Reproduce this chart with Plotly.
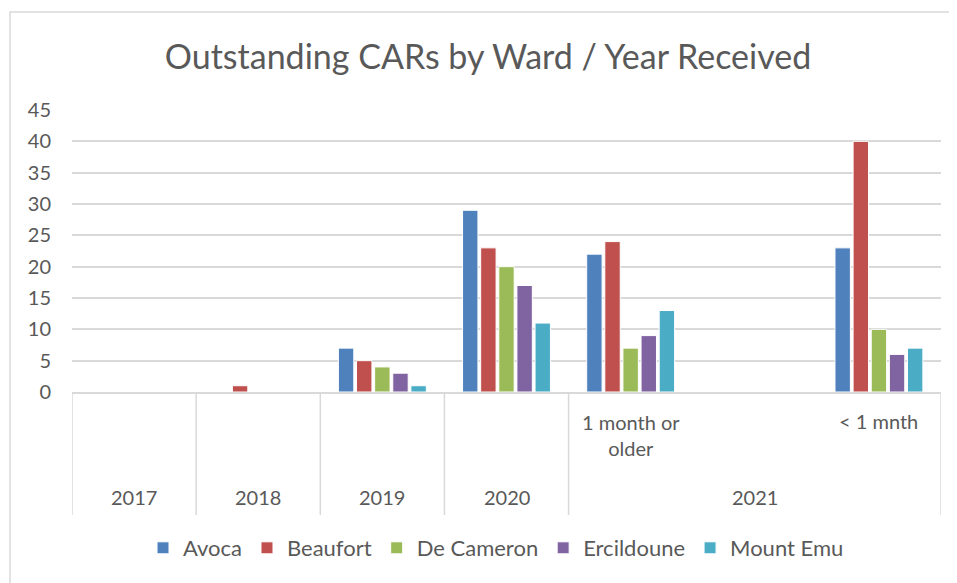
import plotly.graph_objects as go

years = ["2017", "2018", "2019", "2020", "2021", "2021", "2021"]
subcats = ["", "", "", "", "1 month or<br>older", "", "< 1 mnth"]
wards = ["Avoca", "Beaufort", "De Cameron", "Ercildoune", "Mount Emu"]
avoca = [0, 0, 7, 29, 22, None, 23]
beaufort = [0, 1, 5, 23, 24, None, 40]
de_cameron = [0, 0, 4, 20, 7, None, 10]
ercildoune = [0, 0, 3, 17, 9, None, 6]
mount_emu = [0, 0, 1, 11, 13, None, 7]
colors = ["#4F81BD", "#C0504D", "#9BBB59", "#8064A2", "#4BACC6"]
y_ticks = [0, 5, 10, 15, 20, 25, 30, 35, 40, 45]

cats = [f"{y}|{s}|{i}" for i, (y, s) in enumerate(zip(years, subcats))]
series = [avoca, beaufort, de_cameron, ercildoune, mount_emu]

OFF = 8  # page body margin
W, H = 957, 583
# target screen positions of plot area
SL, SR, ST, SB = 72, 941, 110, 392
L, T = SL - OFF, ST - OFF
R = W - (SR - OFF)
B = H - (SB - OFF)
PW, PH = W - L - R, H - T - B

def py(p):
    return (SB - p) / PH

def px(p):
    return (p - SL) / PW

TXT = "#595959"
GRID = "#D9D9D9"
FONT = "Lato, Open Sans, sans-serif"

fig = go.Figure()
for name, vals, c in zip(wards, series, colors):
    fig.add_trace(go.Bar(x=cats, y=vals, name=name, marker=dict(color=c, line=dict(color="white", width=1))))

annotations = []
for i, s in enumerate(subcats):
    if s:
        yy = py(435) if "<br>" in s else py(421)
        annotations.append(dict(x=cats[i], y=yy, xref="x", yref="paper", text=s, showarrow=False,
                                font=dict(size=20, color=TXT, family=FONT), yanchor="middle", xanchor="center"))
seen = []
for y in years:
    if y not in seen:
        seen.append(y)
for y in seen:
    idx = [i for i, v in enumerate(years) if v == y]
    mid = cats[idx[len(idx) // 2]]
    annotations.append(dict(x=mid, y=py(497), xref="x", yref="paper", text=y, showarrow=False,
                            font=dict(size=20, color=TXT, family=FONT), yanchor="middle", xanchor="center"))

shapes = []
bounds = [-0.5]
for i in range(1, len(years)):
    if years[i] != years[i - 1]:
        bounds.append(i - 0.5)
bounds.append(len(years) - 0.5)
for b in bounds:
    shapes.append(dict(type="line", xref="x", yref="paper", x0=b, x1=b, y0=0, y1=py(515),
                       line=dict(color=GRID, width=1.5)))
shapes.append(dict(type="rect", xref="paper", yref="paper", x0=px(10), x1=px(975), y0=py(12), y1=py(600),
                   line=dict(color=GRID, width=1.5), fillcolor="rgba(0,0,0,0)"))

fig.update_layout(
    width=W, height=H,
    margin=dict(l=L, r=R, t=T, b=B),
    paper_bgcolor="white", plot_bgcolor="white",
    font=dict(family=FONT, color=TXT, size=20),
    title=dict(text="Outstanding CARs by Ward / Year Received", x=(488 - OFF) / W, xanchor="center",
               y=1 - (57 - OFF) / H, yanchor="middle", font=dict(size=34, color=TXT, family=FONT)),
    barmode="group", bargap=0.27, bargroupgap=0.15,
    legend=dict(orientation="h", x=px(496), xanchor="center", y=py(548), yanchor="middle",
                font=dict(size=22, color=TXT, family=FONT), itemwidth=30, traceorder="normal"),
    annotations=annotations, shapes=shapes,
    xaxis=dict(type="category", categoryorder="array", categoryarray=cats, showticklabels=False,
               showline=True, linecolor=GRID, linewidth=1.5, showgrid=False, ticks="",
               range=[-0.5, len(cats) - 0.5], fixedrange=True),
    yaxis=dict(range=[0, 45], tickvals=y_ticks, showgrid=True, gridcolor=GRID, gridwidth=1.5,
               zeroline=False, showline=False, ticks="", ticklabelstandoff=20,
               tickfont=dict(size=20, color=TXT, family=FONT), fixedrange=True),
)

fig.write_html("out.html")
